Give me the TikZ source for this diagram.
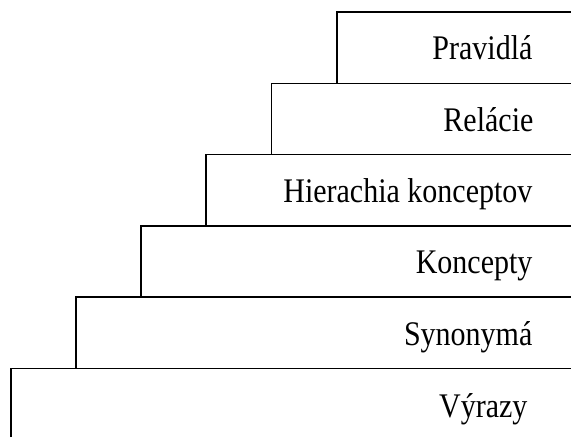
\documentclass[tikz,border=0pt]{standalone}
\usepackage{fontspec}
\setmainfont{Liberation Serif}
\newcommand{\etichetta}[1]{\scalebox{1}[1.15]{#1}}

\begin{document}
\begin{tikzpicture}[x=1pt, y=-1pt, line width=1.2pt]
	% Stile per le etichette dei gradini
	\tikzset{gradino/.style={anchor=base east, inner sep=0pt, font=\fontsize{30}{36}\selectfont}}
	\useasboundingbox (0,0) rectangle (571,437);
	
	% Angoli dei gradini (dal basso verso l'alto)
	\coordinate (S1) at (11, 368.5);
	\coordinate (S2) at (76, 297);
	\coordinate (S3) at (141, 226);
	\coordinate (S4) at (206, 154.5);
	\coordinate (S5) at (271.5, 83.5);
	\coordinate (S6) at (337, 12);
	\coordinate (Fondo) at (0, 437);
	\coordinate (Destra) at (571, 0);
	
	% Etichette
	\node[gradino] (Vyrazy)     at (528, 417) {\etichetta{Výrazy}};
	\node[gradino] (Synonyma)   at (533, 345) {\etichetta{Synonymá}};
	\node[gradino] (Koncepty)   at (533, 273.5) {\etichetta{Koncepty}};
	\node[gradino] (Hierachia)  at (533, 202) {\etichetta{Hierachia konceptov}};
	\node[gradino] (Relacie)    at (534, 131) {\etichetta{Relácie}};
	\node[gradino] (Pravidla)   at (533, 59.5) {\etichetta{Pravidlá}};
	
	% Gradini
	\draw (S1 |- Fondo) -- (S1) -- (S1 -| Destra);
	\draw (S2 |- S1) -- (S2) -- (S2 -| Destra);
	\draw (S3 |- S2) -- (S3) -- (S3 -| Destra);
	\draw (S4 |- S3) -- (S4) -- (S4 -| Destra);
	\draw (S5 |- S4) -- (S5) -- (S5 -| Destra);
	\draw (S6 |- S5) -- (S6) -- (S6 -| Destra);
	
\end{tikzpicture}
\end{document}
